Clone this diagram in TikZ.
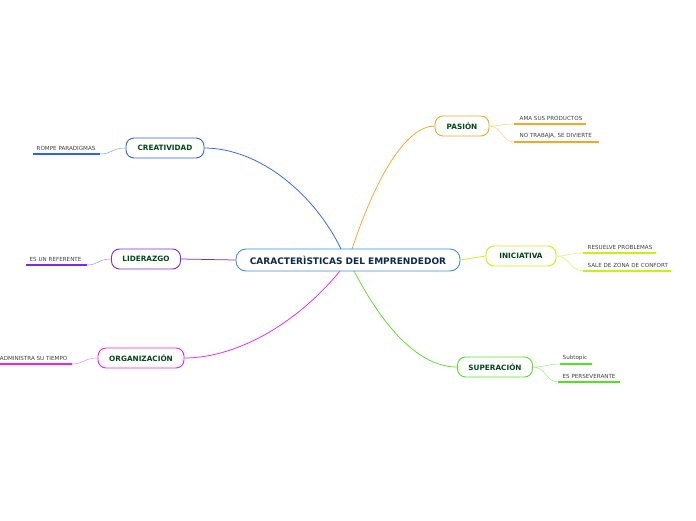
\documentclass[tikz,border=0pt]{standalone}
\usepackage{fontspec}
\setmainfont{DejaVu Sans}
\begin{document}
\begin{tikzpicture}[x=1pt,y=-1pt,
  mainbox/.style={draw=#1,line width=0.9pt,rounded corners=8pt,fill=white,minimum height=20pt,inner xsep=4pt,font=\bfseries\fontsize{7.3}{8}\selectfont,text=green!20!black!90!cyan},
  leaf/.style={font=\fontsize{5.6}{6.5}\selectfont,text=black!75,anchor=south west,inner sep=0.5pt},
  uline/.style={draw=#1,line width=1.1pt},
  branch/.style={draw=#1,line width=0.75pt},
  twig/.style={draw=#1,line width=0.5pt}
]
\useasboundingbox (0,0) rectangle (696,520);
\definecolor{cblue}{HTML}{2A64F0}
\definecolor{corange}{HTML}{F5A623}
\definecolor{cyel}{HTML}{CCEE11}
\definecolor{cgreen}{HTML}{55E022}
\definecolor{cpurp}{HTML}{7A2BE8}
\definecolor{cmag}{HTML}{EE22EE}
\definecolor{ccent}{HTML}{3A8FD6}
\definecolor{ctext}{HTML}{0E2A4A}

\coordinate (c1) at (341,249);
\coordinate (c2) at (352,249);
\coordinate (c3) at (340,271);
\coordinate (c4) at (354,271);

% branches
\draw[branch=cblue] (c1) .. controls (315,195) and (260,148) .. (204,148);
\draw[branch=corange] (c2) .. controls (375,180) and (405,126) .. (435,126);
\draw[branch=cmag] (c3) .. controls (300,320) and (240,358) .. (184,358);
\draw[branch=cgreen] (c4) .. controls (385,330) and (420,367) .. (457,367);

\node[draw=ccent,line width=0.9pt,rounded corners=10pt,fill=white,minimum width=224pt,minimum height=22pt,font=\bfseries\fontsize{9}{10}\selectfont,text=ctext] (root) at (348,260) {CARACTERÌSTICAS DEL EMPRENDEDOR};

\node[mainbox=corange,minimum width=54pt] (pas) at (462,126) {PASIÓN};
\node[mainbox=cyel,minimum width=70pt] (ini) at (521,256) {INICIATIVA};
\node[mainbox=cgreen,minimum width=75pt] (sup) at (495,367) {SUPERACIÓN};
\node[mainbox=cblue,minimum width=78pt] (cre) at (165,148) {CREATIVIDAD};
\node[mainbox=cpurp,minimum width=69pt] (lid) at (146,259) {LIDERAZGO};
\node[mainbox=cmag,minimum width=86pt] (org) at (141,358) {ORGANIZACIÓN};

\draw[branch=cpurp] (root.west) -- (lid.east);
\draw[branch=cyel] (root.east) -- (ini.west);

% leaves
\coordinate (p1a) at (514,124); \coordinate (p1b) at (586,124);
\coordinate (p2a) at (514,142); \coordinate (p2b) at (599,142);
\draw[uline=corange] (p1a) -- (p1b);
\draw[uline=corange] (p2a) -- (p2b);
\node[leaf] (t1) at (519,121.5) {AMA SUS PRODUCTOS};
\node[leaf] (t2) at (519,139.5) {NO TRABAJA, SE DIVIERTE};
\draw[twig=corange!60] (pas.east) .. controls (502,126) and (500,124) .. (p1a);
\draw[twig=corange!60] (pas.east) .. controls (502,126) and (502,142) .. (p2a);

\coordinate (i1a) at (583,253); \coordinate (i1b) at (656,253);
\coordinate (i2a) at (583,271); \coordinate (i2b) at (671,271);
\draw[uline=cyel] (i1a) -- (i1b);
\draw[uline=cyel] (i2a) -- (i2b);
\node[leaf] (t3) at (587,250.5) {RESUELVE PROBLEMAS};
\node[leaf] (t4) at (587,268.5) {SALE DE ZONA DE CONFORT};
\draw[twig=cyel!70] (ini.east) .. controls (570,256) and (568,253) .. (i1a);
\draw[twig=cyel!70] (ini.east) .. controls (570,256) and (570,271) .. (i2a);

\coordinate (s1a) at (560,364); \coordinate (s1b) at (592,364);
\coordinate (s2a) at (558,382); \coordinate (s2b) at (620,382);
\draw[uline=cgreen] (s1a) -- (s1b);
\draw[uline=cgreen] (s2a) -- (s2b);
\node[leaf] (t5) at (562,361.5) {Subtopic};
\node[leaf] (t6) at (562,379.5) {ES PERSEVERANTE};
\draw[twig=cgreen!60] (sup.east) .. controls (546,367) and (548,364) .. (s1a);
\draw[twig=cgreen!60] (sup.east) .. controls (546,367) and (546,382) .. (s2a);

\coordinate (r1a) at (33,154); \coordinate (r1b) at (100,154);
\draw[uline=cblue] (r1a) -- (r1b);
\node[leaf] (t7) at (36,151.5) {ROMPE PARADIGMAS};
\draw[twig=cblue!60] (cre.west) .. controls (112,148) and (112,154) .. (r1b);

\coordinate (l1a) at (26,265); \coordinate (l1b) at (87,265);
\draw[uline=cpurp] (l1a) -- (l1b);
\node[leaf] (t8) at (29,262.5) {ES UN REFERENTE};
\draw[twig=cpurp!60] (lid.west) .. controls (98,259) and (98,265) .. (l1b);

\coordinate (o1a) at (0,364); \coordinate (o1b) at (72,364);
\draw[uline=cmag] (o1a) -- (o1b);
\node[leaf,anchor=south east] (t9) at (68,361.5) {ADMINISTRA SU TIEMPO};
\draw[twig=cmag!60] (org.west) .. controls (84,358) and (84,364) .. (o1b);
\end{tikzpicture}
\end{document}
